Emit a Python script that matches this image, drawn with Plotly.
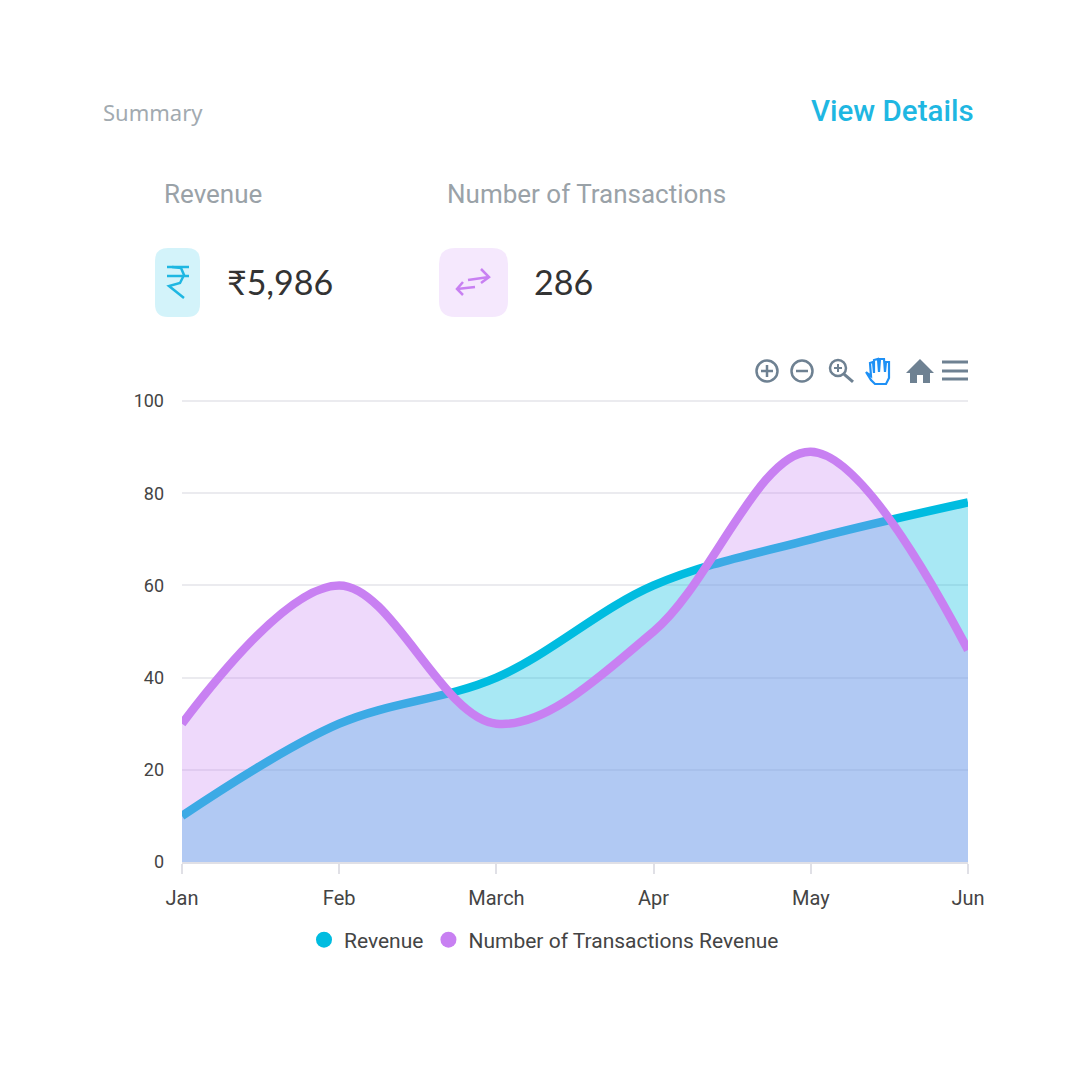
"""Summary card with revenue and transactions area chart."""

import plotly.graph_objs as go

months = ["Jan", "Feb", "March", "Apr", "May", "Jun"]
revenue = [10, 30, 40, 60, 70, 78]
transactions = [30, 60, 30, 50, 89, 46]
y_ticks = [0, 20, 40, 60, 80, 100]

CYAN = "#00BCE0"
PURPLE = "#C880F2"
GREY = "#6E8192"
SIZE = 1080


def px(x):
    return x / SIZE


def py(y):
    return 1 - y / SIZE


def path(cmds):
    # cmds are (letter, x, y) in page pixels, or a bare "Z"
    out = []
    for c in cmds:
        if c == "Z":
            out.append("Z")
        else:
            out.append(f"{c[0]}{px(c[1]):.5f},{py(c[2]):.5f}")
    return " ".join(out)


def rounded_box(x0, y0, x1, y1, r, color):
    d = (
        f"M{px(x0 + r):.5f},{py(y0):.5f} L{px(x1 - r):.5f},{py(y0):.5f} "
        f"Q{px(x1):.5f},{py(y0):.5f} {px(x1):.5f},{py(y0 + r):.5f} "
        f"L{px(x1):.5f},{py(y1 - r):.5f} "
        f"Q{px(x1):.5f},{py(y1):.5f} {px(x1 - r):.5f},{py(y1):.5f} "
        f"L{px(x0 + r):.5f},{py(y1):.5f} "
        f"Q{px(x0):.5f},{py(y1):.5f} {px(x0):.5f},{py(y1 - r):.5f} "
        f"L{px(x0):.5f},{py(y0 + r):.5f} "
        f"Q{px(x0):.5f},{py(y0):.5f} {px(x0 + r):.5f},{py(y0):.5f} Z"
    )
    return dict(type="path", xref="paper", yref="paper", path=d, fillcolor=color, line=dict(width=0), layer="above")


def stroke(points, color, width=2.5):
    cmds = [("M" if i == 0 else "L", x, y) for i, (x, y) in enumerate(points)]
    return dict(type="path", xref="paper", yref="paper", path=path(cmds),
                line=dict(color=color, width=width), layer="above")


def circle(cx, cy, r, color, width=2.5):
    return dict(type="circle", xref="paper", yref="paper",
                x0=px(cx - r), x1=px(cx + r), y0=py(cy + r), y1=py(cy - r),
                line=dict(color=color, width=width), layer="above")


def label(text, x, y, size, color, font="Roboto", anchor="left", weight=None):
    return dict(text=text, x=px(x), y=py(y), xref="paper", yref="paper", showarrow=False,
                xanchor=anchor, yanchor="middle",
                font=dict(family=font, size=size, color=color, weight=weight))


fig = go.Figure()

# Revenue first: the purple fill sits on top of its line
fig.add_trace(go.Scatter(
    x=months, y=revenue, mode="lines", fill="tozeroy",
    line=dict(color=CYAN, width=8.5, shape="spline", smoothing=1.0),
    fillcolor="rgba(0,188,224,0.34)", showlegend=False, hoverinfo="skip",
))
fig.add_trace(go.Scatter(
    x=months, y=transactions, mode="lines", fill="tozeroy",
    line=dict(color=PURPLE, width=8.5, shape="spline", smoothing=1.0),
    fillcolor="rgba(200,128,242,0.3)", showlegend=False, hoverinfo="skip",
))

# Legend entries with round swatches
for name, color in [("Revenue", CYAN), ("Number of Transactions Revenue", PURPLE)]:
    fig.add_trace(go.Scatter(
        x=[None], y=[None], mode="markers", name=name,
        marker=dict(color=color, size=20, symbol="circle"),
    ))

shapes = [
    rounded_box(155, 248, 200, 317, 13, "#D3F3FA"),
    rounded_box(439, 248, 508, 317, 16, "#F5E8FD"),
    # rupee sign
    stroke([(167, 267), (189, 267)], "#1FB7E2", 2.5),
    stroke([(167, 276), (189, 276)], "#1FB7E2", 2.5),
    stroke([(172, 267), (181, 268), (184, 275), (180, 283), (169, 286), (184, 298)], "#1FB7E2", 2.5),
    # transactions arrows
    stroke([(457, 289), (475, 287)], PURPLE),
    stroke([(463, 282), (457, 289), (463, 295)], PURPLE),
    stroke([(468, 280), (489, 277)], PURPLE),
    stroke([(481, 269), (489, 277), (481, 283)], PURPLE),
    # toolbar: zoom in, zoom out, magnifier
    circle(767, 371, 10.5, GREY),
    stroke([(761, 371), (773, 371)], GREY),
    stroke([(767, 365), (767, 377)], GREY),
    circle(802, 371, 10.5, GREY),
    stroke([(796, 371), (808, 371)], GREY),
    circle(838, 368, 8, GREY),
    stroke([(834, 368), (842, 368)], GREY, 2),
    stroke([(838, 364), (838, 372)], GREY, 2),
    stroke([(844, 374), (853, 382)], GREY, 3),
    # toolbar: hand
    stroke([(866, 372), (871, 380), (875, 384), (886, 384), (889, 378),
            (889, 362), (886, 362), (885, 372), (884, 359), (880, 359),
            (879, 372), (878, 359), (874, 360), (874, 373), (873, 362),
            (870, 363), (871, 376), (866, 372)], "#1E90F5", 2.2),
    # toolbar: home
    dict(type="path", xref="paper", yref="paper", layer="above", fillcolor=GREY, line=dict(width=0),
         path=path([("M", 920, 359), ("L", 934, 373), ("L", 930, 373), ("L", 930, 383),
                    ("L", 923, 383), ("L", 923, 375), ("L", 917, 375), ("L", 917, 383),
                    ("L", 910, 383), ("L", 910, 373), ("L", 906, 373), "Z"])),
    # toolbar: menu
    stroke([(942, 362), (968, 362)], GREY, 3),
    stroke([(942, 371), (968, 371)], GREY, 3),
    stroke([(942, 379), (968, 379)], GREY, 3),
]

annotations = [
    label("Summary", 101, 112, 22, "#A2AAB0", font="Noto Sans"),
    label("View Details", 976, 111, 29.5, "#1FB7E2", anchor="right", weight=500),
    label("Revenue", 162, 194, 26, "#9AA2A8"),
    label("Number of Transactions", 445, 194, 26, "#9AA2A8"),
    label("₹5,986", 225, 281, 34, "#333333", font="Lato"),
    label("286", 532, 281, 34, "#333333", font="Lato"),
]

fig.update_layout(
    width=SIZE,
    height=SIZE,
    margin=dict(l=0, r=0, t=0, b=0, autoexpand=False),
    paper_bgcolor="white",
    plot_bgcolor="white",
    shapes=shapes,
    annotations=annotations,
    font=dict(family="Roboto", size=17, color="#444444"),
    xaxis=dict(
        domain=[px(182), px(968)], range=[0, 5], type="category",
        categoryorder="array", categoryarray=months,
        showgrid=False, showline=True, linecolor="#E0E0E6", linewidth=2,
        ticks="outside", ticklen=10, tickwidth=2, tickcolor="#E0E0E6",
        tickfont=dict(size=20, color="#444444"), zeroline=False, ticklabelstandoff=7,
    ),
    yaxis=dict(
        # top of the range nudged past 100 so the 100 gridline is kept
        domain=[py(862), py(399)], range=[0, 100.43], tickvals=y_ticks,
        showgrid=True, gridcolor="#EBEBEF", gridwidth=2, zeroline=False,
        ticks="", ticklabelstandoff=17,
        tickfont=dict(size=18, color="#444444"),
    ),
    legend=dict(
        orientation="h", x=px(544), y=py(940), xanchor="center", yanchor="middle",
        font=dict(size=21, color="#444444"), itemsizing="trace",
        bgcolor="rgba(0,0,0,0)",
    ),
    showlegend=True,
)

fig.write_html("out.html", config=dict(displayModeBar=False),
               post_script="document.body.style.margin='0';")
